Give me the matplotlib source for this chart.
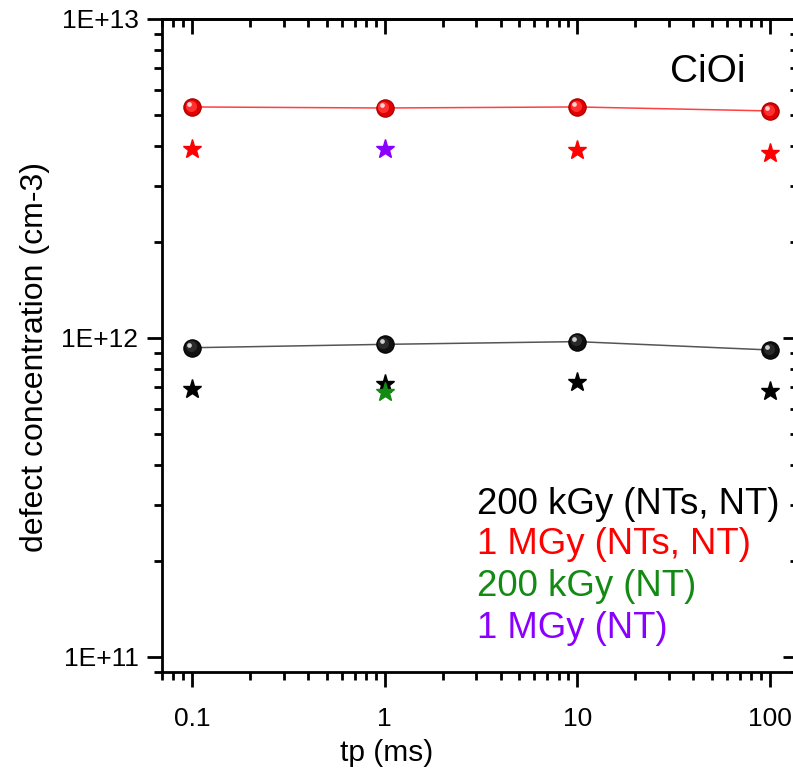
import matplotlib
matplotlib.use("Agg")
import matplotlib.pyplot as plt
import matplotlib.transforms as mtransforms
from matplotlib.ticker import LogLocator, NullFormatter, FixedLocator, FixedFormatter

plt.rcParams['font.family'] = ['Liberation Sans', 'DejaVu Sans']

# Data
tp = [0.1, 1, 10, 100]
mgy1_nts = [5.30e12, 5.26e12, 5.30e12, 5.15e12]      # red balls
mgy1_nt_star = [3.91e12, None, 3.88e12, 3.81e12]     # red stars
kgy200_nts = [9.32e11, 9.55e11, 9.74e11, 9.17e11]    # black balls
kgy200_nt_star = [6.92e11, 7.17e11, 7.26e11, 6.82e11]  # black stars
kgy200_nt_green = [6.79e11]   # green star at tp=1
mgy1_nt_purple = [3.91e12]    # purple star at tp=1
tp_single = [1]

x_ticks = [0.1, 1, 10, 100]
x_ticklabels = ['0.1', '1', '10', '100']
y_ticks = [1e11, 1e12, 1e13]
y_ticklabels = ['1E+11', '1E+12', '1E+13']

legend_labels = ["200 kGy (NTs, NT)", "1 MGy (NTs, NT)", "200 kGy (NT)", "1 MGy (NT)"]
legend_colors = ["#000000", "#ff0000", "#138a13", "#8a00ff"]

W, H = 793, 775
fig = plt.figure(figsize=(W/100, H/100), dpi=100)
L, R, T, B = 162, 798, 19, 672
ax = fig.add_axes([L/W, 1 - B/H, (R-L)/W, (B-T)/H])
ax.set_xscale('log')
ax.set_yscale('log')
ax.set_xlim(0.07, 140)
ax.set_ylim(8.97e10, 1e13)

def ball(x, y, base, line, mid, hi, edge):
    ax.plot(x, y, '-', color=line, lw=1.1, zorder=2)
    ax.plot(x, y, 'o', ms=12.5, mfc=base, mec=edge, mew=0.8, ls='none', zorder=3)
    t1 = mtransforms.offset_copy(ax.transData, fig=fig, x=-1.3, y=1.3, units='dots')
    ax.plot(x, y, 'o', ms=8.0, mfc=mid, mec='none', ls='none', zorder=4, transform=t1)
    t2 = mtransforms.offset_copy(ax.transData, fig=fig, x=-2.8, y=3.0, units='dots')
    ax.plot(x, y, 'o', ms=3.4, mfc=hi, mec='none', ls='none', zorder=5, transform=t2)

# stars
xs = [x for x, v in zip(tp, kgy200_nt_star) if v is not None]
ys = [v for v in kgy200_nt_star if v is not None]
ax.plot(xs, ys, '*', ms=14, color='#000000', ls='none', zorder=3)
ax.plot(tp_single, kgy200_nt_green, '*', ms=14, color='#138a13', ls='none', zorder=4)
xs = [x for x, v in zip(tp, mgy1_nt_star) if v is not None]
ys = [v for v in mgy1_nt_star if v is not None]
ax.plot(xs, ys, '*', ms=14, color='#ff0000', ls='none', zorder=3)
ax.plot(tp_single, mgy1_nt_purple, '*', ms=14, color='#8a00ff', ls='none', zorder=4)

ball(tp, mgy1_nts, '#e00000', '#ff4040', '#ff3030', '#ffd0d0', '#a00000')
ball(tp, kgy200_nts, '#101010', '#555555', '#2a2a2a', '#d0d0d0', '#000000')

# ticks
ax.xaxis.set_major_locator(FixedLocator(x_ticks))
ax.xaxis.set_major_formatter(FixedFormatter(x_ticklabels))
ax.xaxis.set_minor_locator(LogLocator(base=10, subs=range(2, 10), numticks=20))
ax.xaxis.set_minor_formatter(NullFormatter())
ax.yaxis.set_major_locator(FixedLocator(y_ticks))
ax.yaxis.set_major_formatter(FixedFormatter(y_ticklabels))
ax.yaxis.set_minor_locator(LogLocator(base=10, subs=range(2, 10), numticks=20))
ax.yaxis.set_minor_formatter(NullFormatter())
ax.tick_params(which='major', direction='out', length=11, width=2, labelsize=19)
ax.tick_params(axis='x', which='major', pad=14)
ax.tick_params(axis='y', which='major', pad=6)
ax.tick_params(which='minor', direction='out', length=6, width=2)
for s in ax.spines.values():
    s.set_linewidth(2)

secx = ax.secondary_xaxis('top')
secx.xaxis.set_major_locator(FixedLocator(x_ticks))
secx.xaxis.set_minor_locator(LogLocator(base=10, subs=range(2, 10), numticks=20))
secx.xaxis.set_major_formatter(NullFormatter())
secx.xaxis.set_minor_formatter(NullFormatter())
secx.tick_params(which='major', direction='in', length=11, width=2)
secx.tick_params(which='minor', direction='in', length=6, width=2)
secx.spines['top'].set_linewidth(2)

secy = ax.secondary_yaxis('right')
secy.yaxis.set_major_locator(FixedLocator(y_ticks))
secy.yaxis.set_minor_locator(LogLocator(base=10, subs=range(2, 10), numticks=20))
secy.yaxis.set_major_formatter(NullFormatter())
secy.yaxis.set_minor_formatter(NullFormatter())
secy.tick_params(which='major', direction='in', length=11, width=2)
secy.tick_params(which='minor', direction='in', length=6, width=2)

fig.text(387/W, 1 - 753/H, 'tp (ms)', fontsize=21.5, ha='center', va='center')
fig.text(35/W, 1 - 357/H, 'defect concentration (cm-3)', fontsize=23, ha='center', va='center', rotation=90)
fig.text(670/W, 1 - 72/H, 'CiOi', fontsize=28, ha='left', va='center')

ys_leg = [505, 545, 586, 628]
for lab, col, yy in zip(legend_labels, legend_colors, ys_leg):
    fig.text(477/W, 1 - yy/H, lab, color=col, fontsize=26.3, ha='left', va='center')

fig.savefig('out.png', dpi=100)
